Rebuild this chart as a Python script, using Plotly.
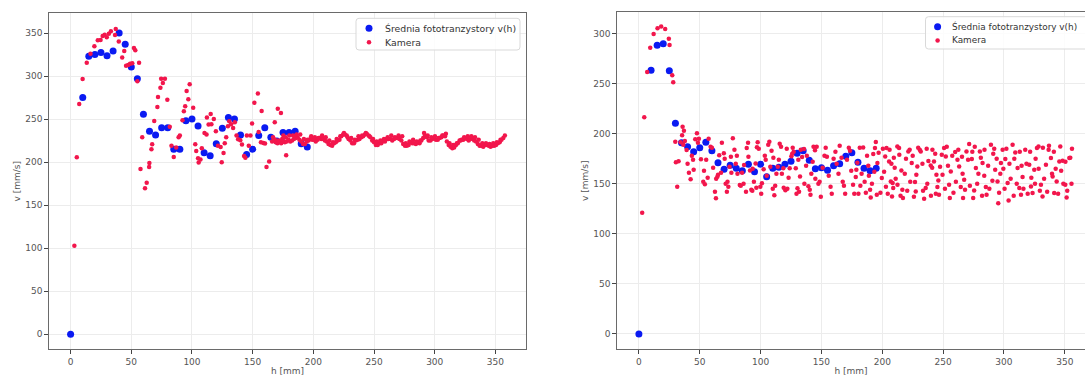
import plotly.graph_objects as go

# ---------------- data ----------------
# phototransistor averages, sampled every 5 mm (h = 5 missing)
avg_h = [0, 10, 15, 20, 25, 30, 35, 40, 45, 50, 55, 60, 65, 70, 75, 80, 85, 90, 95,
         100, 105, 110, 115, 120, 125, 130, 135, 140, 145, 150, 155, 160, 165, 170,
         175, 180, 185, 190, 195]
avg_v_left = [0, 275, 323, 325, 327.5, 323.5, 329, 350, 337, 310.5, 297, 255.5, 236,
              231.5, 240, 240, 215, 215, 248, 250, 242, 211, 207.5, 221.5, 239.5, 252,
              250, 231.5, 209, 215, 231, 240, 229, 224.5, 234.5, 234.5, 236, 221.5, 217.5]
avg_v_right = [0, 263.5, 288.5, 290, 263, 210.5, 191, 187, 182, 186, 191.5, 183, 171,
               164.5, 168.5, 165.5, 163, 169.5, 162, 169.5, 157, 165.5, 166.5, 169.5,
               172.5, 180.5, 183, 173.5, 165, 166, 163.5, 168, 170, 177.5, 181, 171.5,
               165.5, 163, 165.5]

# camera, run 1: start-up and oscillating part
cam1_rise_h = [3.1, 5.1, 7.1, 9.9, 13.3, 16.4, 19.6, 22.4, 24.7, 26.4, 28.1, 29.8, 31.5,
               33.2, 36.6, 37.2, 39.7, 42.5, 44.2, 45.7, 47.4, 49, 50.8, 52.2, 53.3, 55,
               56.4, 57.6, 59, 61.3, 62.7, 64.7, 64.9, 66.6, 67.2, 68.9, 71.5, 72, 74,
               74.6, 76, 77.7, 79.7, 81.7, 83.1, 85, 87, 89, 90, 92.2, 93.3, 94.4, 95.6,
               97, 98.1, 101, 102.7, 103.5, 105, 105.5, 107, 108.1, 110.3, 112, 112.3,
               113.7, 115.4, 116, 118, 119.7, 121.4, 123.6, 124.5, 126, 127, 128.2,
               129.6, 130.7, 132.2, 133.9, 135.3, 136.7, 138, 139.8, 141.2, 142.9, 144,
               145.2, 146.8, 148.2, 149.5, 151.4, 154.3, 154.9, 156.8, 157.4, 158.8,
               160.2, 161.4, 163.6, 168.2, 170.7, 173.3, 175.3, 177.6]
cam1_rise_v = [103, 205.7, 267.6, 296.6, 315.5, 326, 334.5, 341.5, 342, 346.5, 348, 345,
               349, 352, 347.6, 354.6, 340, 321.7, 329, 312, 312.8, 314.4, 315, 332.6,
               330, 294, 315.5, 192, 229, 169.8, 176, 194.5, 199, 215, 220.8, 247.9, 264,
               275.7, 286.5, 297, 292, 297, 272.6, 241, 219, 206, 217, 229, 231, 248.6,
               259, 265, 282.7, 273, 290.4, 263.3, 220.8, 213, 204.6, 199.5, 203, 216,
               234, 232, 252, 243.6, 256, 244, 250, 236, 219, 217.7, 200, 210.7, 222,
               229, 241.7, 247.5, 244, 239.7, 246.3, 231, 226.6, 225.4, 220.4, 207, 205,
               231, 219, 231, 244.8, 269, 279.6, 235, 223, 259.5, 222.3, 221.6, 194.5,
               200.7, 246.3, 262, 257, 231, 208]

# camera, run 1: steady band, main track
cam1_main_h = [166, 167.5, 169, 170.5, 172, 173.5, 175, 176.5, 178, 179.5, 181, 182.5,
               184, 185.5, 187, 188.5, 190, 191.5, 193, 194.5, 196, 197.5, 199, 200.5,
               202, 203.5, 205, 206.5, 208, 209.5, 211, 212.5, 214, 215.5, 217, 218.5,
               220, 221.5, 223, 224.5, 226, 227.5, 229, 230.5, 232, 233.5, 235, 236.5,
               238, 239.5, 241, 242.5, 244, 245.5, 247, 248.5, 250, 251.5, 253, 254.5,
               256, 257.5, 259, 260.5, 262, 263.5, 265, 266.5, 268, 269.5, 271, 272.5,
               274, 275.5, 277, 278.5, 280, 281.5, 283, 284.5, 286, 287.5, 289, 290.5,
               292, 293.5, 295, 296.5, 298, 299.5, 301, 302.5, 304, 305.5, 307, 308.5,
               310, 311.5, 313, 314.5, 316, 317.5, 319, 320.5, 322, 323.5, 325, 326.5,
               328, 329.5, 331, 332.5, 334, 335.5, 337, 338.5, 340, 341.5, 343, 344.5,
               346, 347.5, 349, 350.5, 352, 353.5, 355, 356.5, 357.8]
cam1_main_v = [224, 226, 223, 222, 224, 222, 225, 223, 224, 226, 224, 225, 227, 228, 229,
               226, 224, 221, 221, 224, 225, 227, 226, 226, 224, 226, 228, 227, 227, 225,
               224, 221, 220, 219, 222, 223, 225, 226, 230, 232, 232, 231, 227, 225, 222,
               222, 225, 226, 227, 229, 230, 232, 233, 231, 229, 225, 223, 220, 220, 222,
               222, 225, 224, 227, 227, 227, 225, 227, 228, 228, 227, 225, 221, 219, 219,
               220, 223, 222, 222, 221, 223, 222, 225, 228, 231, 229, 225, 225, 227, 228,
               226, 226, 228, 229, 231, 230, 224, 220, 218, 216, 217, 220, 222, 225, 226,
               226, 228, 227, 225, 227, 228, 225, 224, 221, 219, 219, 218, 220, 220, 219,
               218, 219, 219, 220, 222, 223, 226, 228, 231]

# camera, run 1: steady band, second track
cam1_side_h = [166.8, 168.3, 171.2, 174.3, 177.2, 180.2, 183.2, 186.2, 189.2, 192.2,
               195.2, 198.2, 201.2, 204.2, 207.2, 210.2, 213.2, 216.2, 219.2, 222.2,
               225.2, 228.2, 231.2, 234.2, 237.2, 240.2, 243.2, 246.2, 249.2, 252.2,
               255.2, 258.2, 261.2, 264.2, 267.2, 270.2, 273.2, 276.2, 279.2, 282.2,
               285.2, 288.2, 291.2, 294.2, 297.2, 300.2, 303.2, 306.2, 309.2, 312.2,
               315.2, 318.2, 321.2, 324.2, 327.2, 330.2, 333.2, 336.2, 339.2, 342.2,
               345.2, 348.2, 351.2, 354.2]
cam1_side_v = [229, 226, 225, 227, 229, 231, 231, 232, 232, 227, 226, 230, 229, 228, 231,
               229, 225, 223, 227, 230, 234, 229, 228, 226, 230, 231, 234, 230, 227, 224,
               225, 227, 229, 231, 229, 231, 230, 222, 224, 226, 224, 225, 234, 231, 229,
               230, 228, 231, 233, 222, 220, 222, 225, 229, 230, 230, 229, 226, 222, 222,
               221, 222, 223, 226]

# camera, run 2: start-up and first part of the scatter
cam2_rise_h = [2.7, 4.4, 6.8, 9.3, 12.1, 15.3, 18.3, 21.6, 24.6, 25.2, 27.4, 28.2, 29.9,
               30.4, 31.5, 32.6, 34.3, 35.5, 35.9, 37, 37.8, 39.2, 41.1, 42.5, 43.5, 44.5,
               46.3, 47.7, 49.3, 51, 52.9, 54.2, 55.3, 57.3, 58.9, 62.5, 63.3, 64.5, 65,
               66, 68.2, 69.8, 71.3, 72.3, 72.8, 74.5, 75.6, 77.2, 79.6, 81, 82.9, 83.7,
               84.8, 86.4, 88.6, 89.7, 91.3, 92.4, 93.2, 94.5, 95.9, 97, 97.6, 99.8,
               101.1, 102.5, 104.2, 106.3, 107.2, 108, 110, 111.3, 113, 114.1, 115.7,
               116.8, 118.7, 120.4, 122, 123.9, 125.3, 126.4, 127.2, 128.9, 130.3, 131.6,
               132.4, 134.1, 135.7, 137.4, 139.3, 140.4, 141.7, 142.8, 144.7, 146.1]
cam2_rise_v = [121.2, 216.5, 261.7, 286, 299.7, 305.4, 307, 304.7, 295, 288.7, 258.4,
               251.4, 192, 171.5, 147, 172.5, 191.5, 198.6, 206.9, 203, 192.8, 183.8, 161,
               154.5, 178, 174, 194.5, 200.5, 195, 174.5, 152, 149.5, 174, 195, 187, 142,
               135.5, 157, 159, 178.5, 191, 180.5, 150, 142, 152, 167, 177, 195.5, 170,
               160, 148.7, 148, 161, 168.7, 185.8, 191, 163.3, 144, 143, 152, 170.4, 186.5,
               191.5, 147, 150.5, 164.5, 174, 189, 192, 167, 145, 138.5, 160, 167, 190, 187,
               165.5, 143.6, 145, 165.6, 177.5, 186, 182, 165.5, 145.6, 142, 157.2, 176.7,
               184.8, 168, 147.5, 144, 160, 172, 183.5, 187]

cam2_mid_h = [36.5, 40, 45, 48.5, 53.5, 56.5, 60, 61, 63.5, 67.5, 70.5, 73.5, 76, 78.5,
              80.5, 86, 88, 90, 93.5, 96.5, 98.5, 100.5, 103.5, 105, 109, 110.5, 112, 115,
              117.5, 119, 121.5, 123, 126, 129.5, 131, 133, 136, 138, 141, 143.5, 145,
              147.5, 148.5, 149.5, 151, 152.5, 153.5, 154.5, 156, 157.5, 158.5, 160, 161.5,
              162.5, 164, 165, 166.5, 167.5, 168.5, 169.5, 171, 172.5, 173.5, 174.5, 176,
              177]
cam2_mid_v = [189, 170, 164, 191, 163, 156, 186, 166, 155, 161, 175, 147, 161, 184, 178,
              150, 142, 177, 165, 146, 185, 140, 178, 158, 183, 176, 148, 174, 160, 146,
              185, 156, 180, 140, 174, 184, 150, 178, 139, 187, 155, 150, 152, 137, 166,
              178, 186, 177, 158, 147, 140, 175, 182, 170, 160, 188, 176, 152, 148, 140,
              174, 186, 183, 163, 149, 140]

# camera, run 2: steady scatter
cam2_tail_h = [178.2, 178.7, 180.4, 182, 184.3, 187.5, 190, 190.5, 192.6, 194, 194.7, 196,
               199.6, 202.4, 203.5, 205.6, 207, 208, 208.5, 209, 210.2, 212.4, 213.8,
               215.7, 216.5, 217, 221.4, 222.5, 224.2, 226.9, 227.5, 228.8, 230.8, 231.6,
               234.4, 235.7, 237.9, 239.8, 241.2, 242.5, 244.5, 245.3, 246.1, 246.6, 248.9,
               250.8, 252.2, 254.9, 255.5, 256.3, 259.9, 261.8, 263.2, 264.5, 266.4, 267.3,
               269.2, 271.4, 273.6, 274.7, 275.5, 276.9, 280.2, 282.4, 283.8, 285.1, 285.7,
               289.3, 291.2, 292.8, 294.7, 295.3, 297.5, 298.9, 301.1, 303, 303.8, 307.1,
               309.3, 311.2, 312.6, 314, 315.3, 317.5, 320.8, 322.2, 323.5, 324.9, 327.1,
               328.4, 330.4, 331.7, 334.5, 336.7, 338.6, 340, 341.3, 343.3, 345.5, 346.3,
               348.2, 350.4, 351.5, 353.7, 355.9]
cam2_tail_v = [156.7, 164, 140, 148, 186.3, 178, 144, 136.3, 179.7, 185.7, 191.7, 170.7,
               155.7, 177.3, 185.7, 172.3, 152.3, 137.3, 150.7, 145.7, 166, 187.3, 185.7,
               163.3, 144, 135.7, 182.3, 184, 170.7, 151.7, 142.3, 167.3, 184, 182.3, 135,
               145.7, 172.7, 168.3, 184, 172.3, 159, 146.7, 153.3, 139, 179, 185.7, 177.3,
               149, 135.7, 162.3, 181.7, 174, 167.3, 146.7, 135.7, 154, 182.3, 189.7,
               174.7, 135.7, 143.3, 165.7, 182.3, 170.7, 158, 146.7, 139, 189, 180, 164,
               152.3, 130.7, 170.7, 184, 174.7, 150.7, 133.3, 189, 181.3, 165.7, 145.7,
               139, 156.7, 184, 169, 147.3, 140.7, 164, 185.7, 187.3, 149, 137.3, 169, 184,
               175.7, 157.3, 140.7, 152.3, 172.3, 187.3, 173, 149, 136.3, 175.7, 185]

cam2_fill_h = [179.5, 181.5, 183, 185.5, 186.5, 188.5, 189, 191.5, 193.5, 195.5, 197,
               198.5, 200.5, 201.5, 203, 204.5, 206, 207.5, 209.5, 211, 212.5, 214, 215,
               218.5, 219.5, 220.5, 223, 225, 226, 228, 229.5, 233, 233.5, 236.5, 237, 240,
               241, 243.5, 244, 247.5, 249.5, 251.5, 253, 254, 257.5, 258.5, 260.5, 262.5,
               265.5, 266, 268, 270.5, 272, 274, 276, 278, 279, 281, 282, 284, 287, 288,
               290.5, 292, 294, 296, 297, 299.5, 300.5, 302, 304.5, 305.5, 308, 308.5,
               310.5, 313, 314.5, 316, 318.5, 319.5, 321.5, 322.5, 325.5, 326, 328.5,
               329.5, 332, 333, 335.5, 337, 339.5, 341, 342.5, 344.5, 347, 348.8, 350.5,
               352, 354.5, 355.5]
cam2_fill_v = [171, 186, 160, 152, 141, 168, 158, 150, 162, 139, 181, 141, 185, 162, 147,
               140, 184, 170, 176, 155, 149, 179, 138, 160, 175, 143, 152, 178, 137, 159,
               186, 170, 143, 185, 150, 138, 166, 180, 140, 167, 159, 145, 187, 168, 178,
               141, 152, 184, 177, 160, 144, 174, 148, 182, 187, 150, 160, 176, 138, 184,
               168, 145, 153, 185, 175, 141, 160, 165, 145, 185, 170, 155, 138, 175, 150,
               182, 168, 145, 170, 140, 182, 156, 150, 175, 165, 143, 186, 155, 142, 188,
               160, 182, 165, 140, 163, 150, 172, 143, 176, 150]

cam_left_h = cam1_rise_h + cam1_main_h + cam1_side_h
cam_left_v = cam1_rise_v + cam1_main_v + cam1_side_v
cam_right_h = cam2_rise_h + cam2_mid_h + cam2_tail_h + cam2_fill_h
cam_right_v = cam2_rise_v + cam2_mid_v + cam2_tail_v + cam2_fill_v

x_ticks = [0, 50, 100, 150, 200, 250, 300, 350]
series_names = ["Średnia fototranzystory v(h)", "Kamera"]

# ---------------- styling ----------------
BLUE = "#0a1af2"
RED = "#f2164c"
FONT = "DejaVu Sans"
TXT = "#555555"
FRAME = "#6a6a6a"
GRID = "#ececec"
BLUE_SIZE, RED_SIZE = 7, 4.5

W, H = 1085, 376

fig = go.Figure()

fig.add_trace(go.Scatter(x=avg_h, y=avg_v_left, mode="markers", name=series_names[0],
                         marker=dict(color=BLUE, size=BLUE_SIZE, line=dict(width=0)),
                         xaxis="x", yaxis="y", showlegend=False))
fig.add_trace(go.Scatter(x=cam_left_h, y=cam_left_v, mode="markers", name=series_names[1],
                         marker=dict(color=RED, size=RED_SIZE, line=dict(width=0)),
                         xaxis="x", yaxis="y", showlegend=False))
fig.add_trace(go.Scatter(x=avg_h, y=avg_v_right, mode="markers", name=series_names[0],
                         marker=dict(color=BLUE, size=BLUE_SIZE, line=dict(width=0)),
                         xaxis="x2", yaxis="y2", showlegend=False))
fig.add_trace(go.Scatter(x=cam_right_h, y=cam_right_v, mode="markers", name=series_names[1],
                         marker=dict(color=RED, size=RED_SIZE, line=dict(width=0)),
                         xaxis="x2", yaxis="y2", showlegend=False))


def px_x(p):
    return p / W


def px_y(p):
    return 1 - p / H


axis_common = dict(
    showline=True, linecolor=FRAME, linewidth=1.3,
    ticks="outside", ticklen=3.5, tickwidth=1, tickcolor="#444444",
    tickfont=dict(family=FONT, size=9, color=TXT),
    showgrid=True, gridcolor=GRID, gridwidth=1,
    zeroline=False, fixedrange=True,
)
title_font = dict(family=FONT, size=9, color=TXT)

fig.update_layout(
    width=W, height=H,
    margin=dict(l=0, r=0, t=0, b=0),
    paper_bgcolor="white", plot_bgcolor="white",
    font=dict(family=FONT, size=9, color=TXT),
    showlegend=False,
    xaxis=dict(domain=[px_x(49), px_x(526)], range=[-17.8, 375.2], anchor="y",
               tickvals=x_ticks, mirror=True,
               title=dict(text="h [mm]", font=title_font, standoff=3),
               **axis_common),
    yaxis=dict(domain=[px_y(349.3), px_y(13.3)], range=[-17.4, 372.9], anchor="x",
               dtick=50, mirror=True,
               title=dict(text="v [mm/s]", font=title_font, standoff=3),
               **axis_common),
    xaxis2=dict(domain=[px_x(617), 1.0], range=[-18.0, 366.6], anchor="y2",
                tickvals=x_ticks, mirror=True,
                title=dict(text="h [mm]", font=title_font, standoff=3),
                **axis_common),
    yaxis2=dict(domain=[px_y(349.3), px_y(12.3)], range=[-15.3, 321.3], anchor="x2",
                dtick=50, mirror=False,
                title=dict(text="v [mm/s]", font=title_font, standoff=3),
                **axis_common),
)


# legend boxes drawn in paper space (rounded frame, symbols, labels)
def add_legend(left, top, right, bottom, mark_x, text_x, row_y, font_size):
    r = 3
    x0, x1 = px_x(left), px_x(right)
    y0, y1 = px_y(top), px_y(bottom)
    rx, ry = r / W, r / H
    path = (f"M {x0 + rx},{y0} L {x1 - rx},{y0} Q {x1},{y0} {x1},{y0 - ry} "
            f"L {x1},{y1 + ry} Q {x1},{y1} {x1 - rx},{y1} L {x0 + rx},{y1} "
            f"Q {x0},{y1} {x0},{y1 + ry} L {x0},{y0 - ry} Q {x0},{y0} {x0 + rx},{y0} Z")
    fig.add_shape(type="path", path=path, xref="paper", yref="paper",
                  line=dict(color="#d9d9d9", width=1), fillcolor="rgba(255,255,255,0.85)",
                  layer="above")
    for name, color, size, yy in zip(series_names, [BLUE, RED], [BLUE_SIZE, RED_SIZE], row_y):
        half = size / 2
        fig.add_shape(type="circle", xref="paper", yref="paper",
                      xsizemode="pixel", ysizemode="pixel",
                      xanchor=px_x(mark_x), yanchor=px_y(yy),
                      x0=-half, x1=half, y0=-half, y1=half,
                      fillcolor=color, line=dict(width=0), layer="above")
        fig.add_annotation(x=px_x(text_x), y=px_y(yy), xref="paper", yref="paper",
                           text=name, showarrow=False, xanchor="left", yanchor="middle",
                           font=dict(family=FONT, size=font_size, color="#333333"))


add_legend(356, 18.3, 520, 50, 369, 383, [28.3, 42.3], 9.3)
add_legend(925.5, 16.7, 1092, 49, 937.6, 950, [26.7, 40.4], 8.9)

fig.write_html("out.html")
